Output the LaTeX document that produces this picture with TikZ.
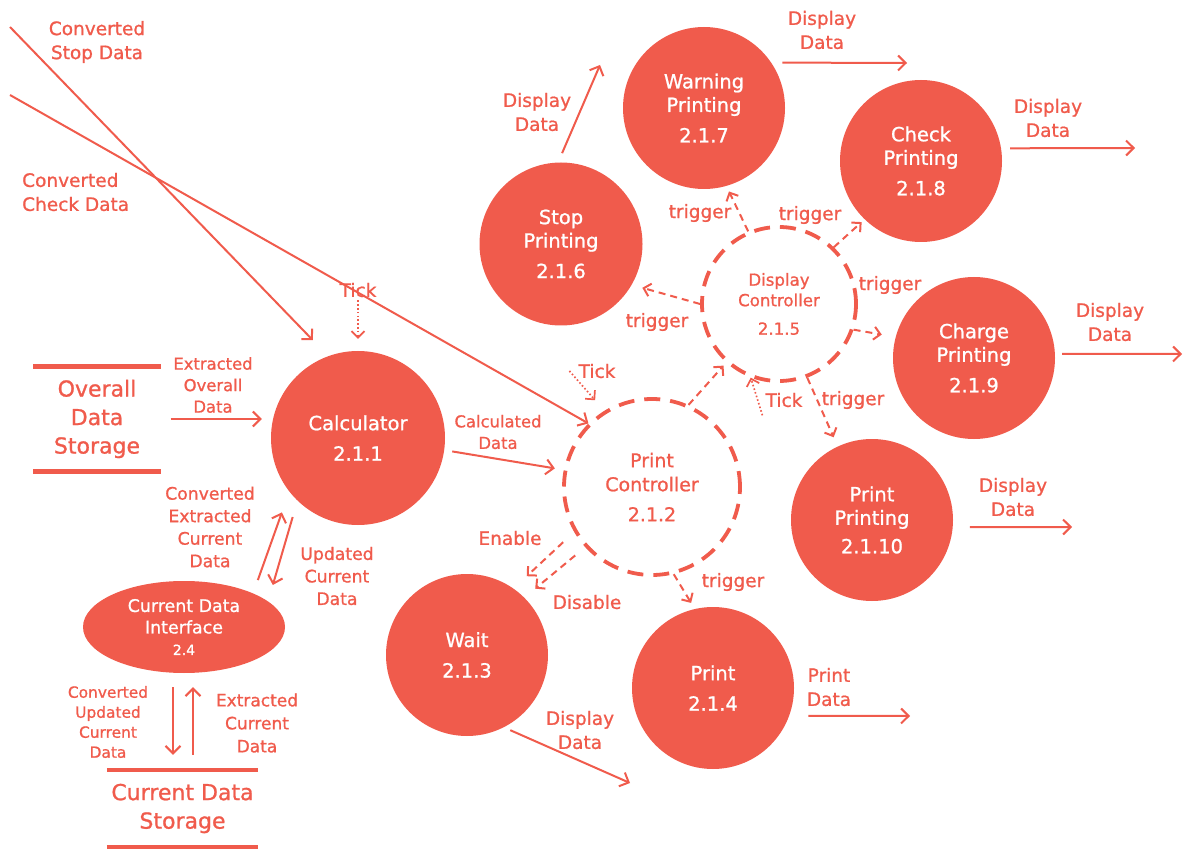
\documentclass[tikz,border=0pt]{standalone}
\usepackage{fontspec}
\setmainfont{DejaVu Sans}[FakeBold=1.0]
\usetikzlibrary{arrows.meta,shapes.geometric,calc}
\definecolor{dred}{HTML}{F05B4C}
\begin{document}
\begin{tikzpicture}[x=1pt,y=-1pt,
  proc/.style={circle,fill=dred,text=white,inner sep=0pt,align=center,font=\fontsize{19.5}{23.5}\selectfont},
  ctrl/.style={circle,draw=dred,line width=3.8pt,dash pattern=on 16pt off 10pt,text=dred,inner sep=0pt,align=center,font=\fontsize{19}{24}\selectfont},
  lbl/.style={text=dred,align=center,inner sep=0pt,font=\fontsize{18.5}{24}\selectfont},
  mlbl/.style={text=dred,align=center,inner sep=0pt,font=\fontsize{17.2}{22.5}\selectfont},
  slbl/.style={text=dred,align=center,inner sep=0pt,font=\fontsize{16.4}{21.5}\selectfont},
  xslbl/.style={text=dred,align=center,inner sep=0pt,font=\fontsize{15.4}{20}\selectfont},
  store/.style={text=dred,align=center,inner sep=0pt,font=\fontsize{22}{28.5}\selectfont},
  sline/.style={draw=dred,line width=4.5pt},
  flow/.style={draw=dred,line width=2pt,-{Straight Barb[length=7.5pt,width=15pt]}},
  dflow/.style={draw=dred,line width=2pt,dash pattern=on 7pt off 5pt,-{Straight Barb[length=6.5pt,width=13pt]}},
  tflow/.style={draw=dred,line width=1.7pt,dash pattern=on 1.6pt off 2.2pt,-{Straight Barb[length=6.5pt,width=13pt]}},
]
\useasboundingbox (0,0) rectangle (1184,850);

% ---- processes ----
\node[proc,minimum size=174pt] (calc) at (358,438) {Calculator\\[7pt]2.1.1};
\node[ctrl,minimum size=176pt] (pc) at (652,487) {Print\\Controller\\[6pt]2.1.2};
\node[proc,minimum size=162pt] (wait) at (467,655) {Wait\\[7pt]2.1.3};
\node[proc,minimum size=162pt] (print) at (713,688) {Print\\[7pt]2.1.4};
\node[ctrl,minimum size=154pt,font=\fontsize{16.6}{20.5}\selectfont] (dc) at (779,304) {Display\\Controller\\[8pt]2.1.5};
\node[proc,minimum size=163pt] (stop) at (561,244) {Stop\\Printing\\[7pt]2.1.6};
\node[proc,minimum size=162pt] (warn) at (704,108) {Warning\\Printing\\[7pt]2.1.7};
\node[proc,minimum size=162pt] (check) at (921,161) {Check\\Printing\\[7pt]2.1.8};
\node[proc,minimum size=162pt] (charge) at (974,358) {Charge\\Printing\\[7pt]2.1.9};
\node[proc,minimum size=162pt] (pp) at (872,520) {Print\\Printing\\[5pt]2.1.10};
\node[ellipse,fill=dred,text=white,minimum width=202pt,minimum height=92pt,inner sep=0pt,align=center,font=\fontsize{17.4}{21.5}\selectfont] (el) at (184,627) {Current Data\\Interface\\{\fontsize{14}{16}\selectfont 2.4}};

% ---- data stores ----
\node[store,minimum width=127pt,minimum height=105pt] (ods) at (97,419) {Overall\\Data\\Storage};
\draw[sline] (ods.north west) -- (ods.north east);
\draw[sline] (ods.south west) -- (ods.south east);
\node[store,minimum width=151pt,minimum height=77pt] (cds) at (182.5,808.5) {Current Data\\Storage};
\draw[sline] (cds.north west) -- (cds.north east);
\draw[sline] (cds.south west) -- (cds.south east);

% ---- free ends ----
\coordinate (csA) at (10,27);
\coordinate (ccA) at (10,95);
\coordinate (sdE) at (600,65);
\coordinate (wdE) at (907,63);
\coordinate (cdE) at (1135,148);
\coordinate (chE) at (1182,354);
\coordinate (ppE) at (1072,527);
\coordinate (waE) at (630,783);
\coordinate (pdE) at (910,716);
\coordinate (dA) at ([xshift=-11pt]el.south);
\coordinate (uA) at ([xshift=9pt]el.south);

% ---- labels ----
\node[lbl] (lcs) at (97,42) {Converted\\Stop Data};
\node[lbl,align=left,anchor=west] (lcc) at (22,192) {Converted\\Check Data};
\node[lbl] (tickA) at (358,290) {Tick};
\node[lbl] (tickB) at (597,371) {Tick};
\node[lbl] (tickC) at (784,400) {Tick};
\node[slbl] (lexo) at (213,385) {Extracted\\Overall\\Data};
\node[slbl] (lcal) at (498,432) {Calculated\\Data};
\node[mlbl] (lcec) at (210,527) {Converted\\Extracted\\Current\\Data};
\node[mlbl] (luc) at (337,576) {Updated\\Current\\Data};
\node[xslbl] (lcuc) at (108,722) {Converted\\Updated\\Current\\Data};
\node[mlbl,font=\fontsize{17}{23}\selectfont] (lec) at (257,723) {Extracted\\Current\\Data};
\node[lbl] (len) at (510,538) {Enable};
\node[lbl] (ldis) at (587,602) {Disable};
\node[lbl] (ltp) at (733,582) {trigger};
\node[lbl] (lwd) at (580,730) {Display\\Data};
\node[lbl] (lpd) at (829,687) {Print\\Data};
\node[lbl] (lsd) at (537,112) {Display\\Data};
\node[lbl] (lwrd) at (822,30) {Display\\Data};
\node[lbl] (lckd) at (1048,118) {Display\\Data};
\node[lbl] (lchd) at (1110,322) {Display\\Data};
\node[lbl] (lppd) at (1013,497) {Display\\Data};
\node[lbl] (lts) at (657,322) {trigger};
\node[lbl] (ltw) at (700,213) {trigger};
\node[lbl] (ltc) at (810,215) {trigger};
\node[lbl] (ltch) at (890,285) {trigger};
\node[lbl] (ltpp) at (853,400) {trigger};

% ---- connectors ----
\draw[flow,shorten >=22pt] (csA) -- (calc.110);
\draw[flow] (ccA) -- (pc.135);
\draw[tflow,shorten <=3pt,shorten >=12pt] (tickA.south) -- (calc.north);
\draw[flow,shorten <=10pt,shorten >=9pt] (ods.east) -- (ods.east -| calc.west);
\draw[flow,shorten <=8pt,shorten >=9pt] (calc.-8.5) -- (pc.169);
\draw[flow,shorten <=14pt,shorten >=22pt] (el.26) -- (calc.218);
\draw[flow,shorten <=17pt,shorten >=17pt] (calc.226) -- (el.17);
\draw[flow,shorten <=14pt,shorten >=15pt] (dA) -- (dA |- cds.north);
\draw[flow,shorten <=15pt,shorten >=14pt] (uA |- cds.north) -- (uA);

\draw[dflow,shorten <=15pt,shorten >=18pt] (pc.210) -- (wait.55);
\draw[dflow,shorten <=13pt,shorten >=14pt] (pc.222) -- (wait.45);
\draw[dflow,shorten >=7pt] (pc.-76) -- (print.103);
\draw[dflow,shorten >=4pt] (pc.66) -- (dc.228);
\draw[tflow,shorten >=14pt] ([xshift=-9pt]tickB.west) -- (pc.122);
\draw[tflow] ([shift={(-3pt,-8pt)}]tickC.south west) -- (dc.-111);

\draw[dflow,shorten >=11pt] (dc.180) -- (stop.-30);
\draw[dflow,shorten >=6pt] (dc.113) -- (warn.-74);
\draw[dflow,shorten >=4pt] (dc.46) -- (check.-134);
\draw[dflow,shorten >=14pt] (dc.-19) -- (charge.165);
\draw[dflow,shorten >=10pt] (dc.-69) -- (pp.115);

\draw[flow,shorten <=7pt] (wait.-63) -- (waE);
\draw[flow] ([xshift=19pt]print.-20) -- (pdE);
\draw[flow,shorten <=10pt] (stop.92) -- (sdE);
\draw[flow] ([xshift=11pt]warn.34) -- (wdE);
\draw[flow] ([xshift=9pt]check.9) -- (cdE);
\draw[flow] ([xshift=7pt]charge.3) -- (chE);
\draw[flow] ([xshift=17pt]pp.-5) -- (ppE);
\end{tikzpicture}
\end{document}
